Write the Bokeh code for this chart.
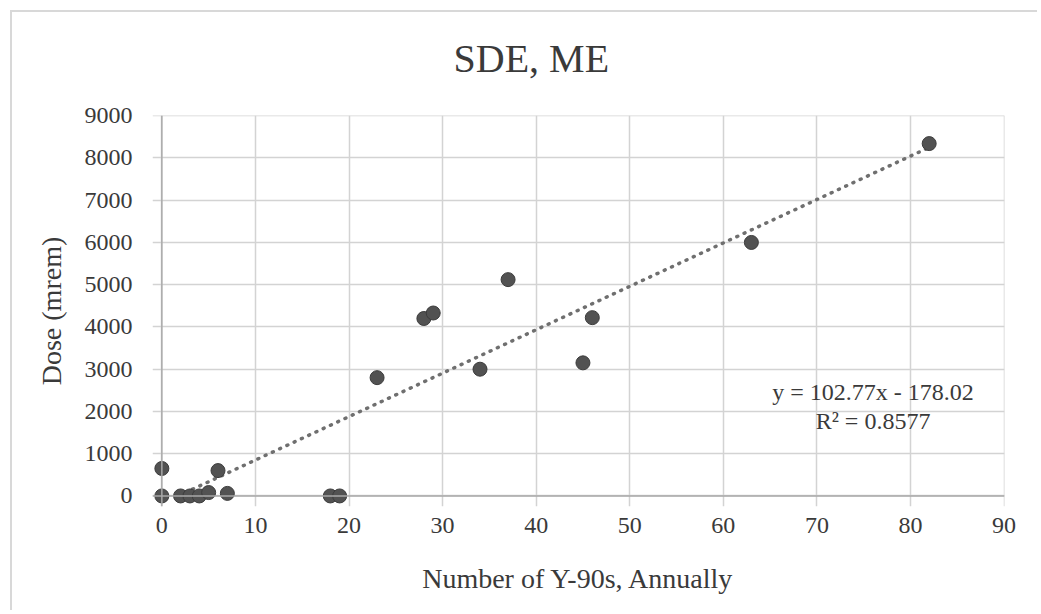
from bokeh.plotting import figure
from bokeh.models import Range1d, FixedTicker, Span, Label, Title, ColumnDataSource
from bokeh.embed import file_html
from bokeh.resources import INLINE

# ---- data ----
x_vals = [0, 0, 2, 3, 4, 5, 6, 7, 18, 19, 23, 28, 29, 34, 37, 45, 46, 63, 82]
y_vals = [0, 650, 0, 0, 0, 80, 600, 60, 0, 0, 2800, 4200, 4330, 3000, 5120, 3150, 4220, 6000, 8340]
x_ticks = [0, 10, 20, 30, 40, 50, 60, 70, 80, 90]
y_ticks = [0, 1000, 2000, 3000, 4000, 5000, 6000, 7000, 8000, 9000]
slope = 102.77
intercept = -178.02
r_squared = 0.8577
title_text = "SDE, ME"
x_title = "Number of Y-90s, Annually"
y_title = "Dose (mrem)"

FONT = "Liberation Serif"
TEXT = "#3a3a3a"
GRID = "#d3d3d3"

p = figure(width=1027, height=600, output_backend="svg", toolbar_location=None,
           x_range=Range1d(-1.0, 90.05), y_range=Range1d(-250, 9005),
           min_border_left=140, min_border_right=35,
           min_border_top=103, min_border_bottom=106,
           background_fill_color="white", border_fill_color="white")
p.styles = {"margin-left": "10px", "margin-top": "10px",
            "border-left": "2px solid #d8d8d8", "border-top": "2px solid #d8d8d8"}
p.outline_line_color = None
p.title = None

# spacer between plot area and title, then the title itself
p.add_layout(Title(text=" ", text_font_size="10px", standoff=22,
                   text_color="white"), "above")
p.add_layout(Title(text=title_text, align="left", offset=301, standoff=0,
                   vertical_align="bottom", text_font=FONT,
                   text_font_size="40px", text_font_style="normal",
                   text_color=TEXT), "above")

# axes
for ax in (p.xaxis[0], p.yaxis[0]):
    ax.axis_line_color = None
    ax.major_tick_line_color = None
    ax.minor_tick_line_color = None
    ax.major_label_text_font = FONT
    ax.major_label_text_font_size = "24px"
    ax.major_label_text_color = TEXT
    ax.axis_label_text_font = FONT
    ax.axis_label_text_font_size = "28px"
    ax.axis_label_text_font_style = "normal"
    ax.axis_label_text_color = TEXT

p.xaxis.ticker = FixedTicker(ticks=x_ticks)
p.yaxis.ticker = FixedTicker(ticks=y_ticks)
p.xaxis.axis_label = x_title
p.yaxis.axis_label = y_title
p.xaxis.major_label_standoff = 5
p.xaxis.axis_label_standoff = 27
p.yaxis.major_label_standoff = 14
p.yaxis.axis_label_standoff = 15

p.xgrid.ticker = FixedTicker(ticks=x_ticks)
p.ygrid.ticker = FixedTicker(ticks=y_ticks)
for g in (p.xgrid[0], p.ygrid[0]):
    g.grid_line_color = GRID
    g.grid_line_width = 1.5

# darker zero lines (Excel axis lines)
p.add_layout(Span(location=0, dimension="height", line_color="#a9a9a9", line_width=1.5))
p.add_layout(Span(location=0, dimension="width", line_color="#a9a9a9", line_width=1.5))

# trendline from the fitted equation, clipped at y = 0
x_start = -intercept / slope
x_end = max(x_vals)
trend = ColumnDataSource(dict(x=[x_start, x_end],
                              y=[slope * x_start + intercept, slope * x_end + intercept]))
p.line("x", "y", source=trend, line_color="#6f6f6f", line_width=3.5,
       line_dash="1 7", line_cap="round")

# data points
src = ColumnDataSource(dict(x=x_vals, y=y_vals))
p.scatter("x", "y", source=src, size=14, fill_color="#525252",
          line_color="#3c3c3c", line_width=1)

# equation labels
p.add_layout(Label(x=76, y=2465, text=f"y = {slope}x - {abs(intercept)}",
                   text_align="center", text_baseline="middle",
                   text_font=FONT, text_font_size="24px", text_color=TEXT))
p.add_layout(Label(x=76, y=1780, text=f"R\u00b2 = {r_squared}",
                   text_align="center", text_baseline="middle",
                   text_font=FONT, text_font_size="24px", text_color=TEXT))

open("out.html", "w").write(file_html(p, INLINE))
